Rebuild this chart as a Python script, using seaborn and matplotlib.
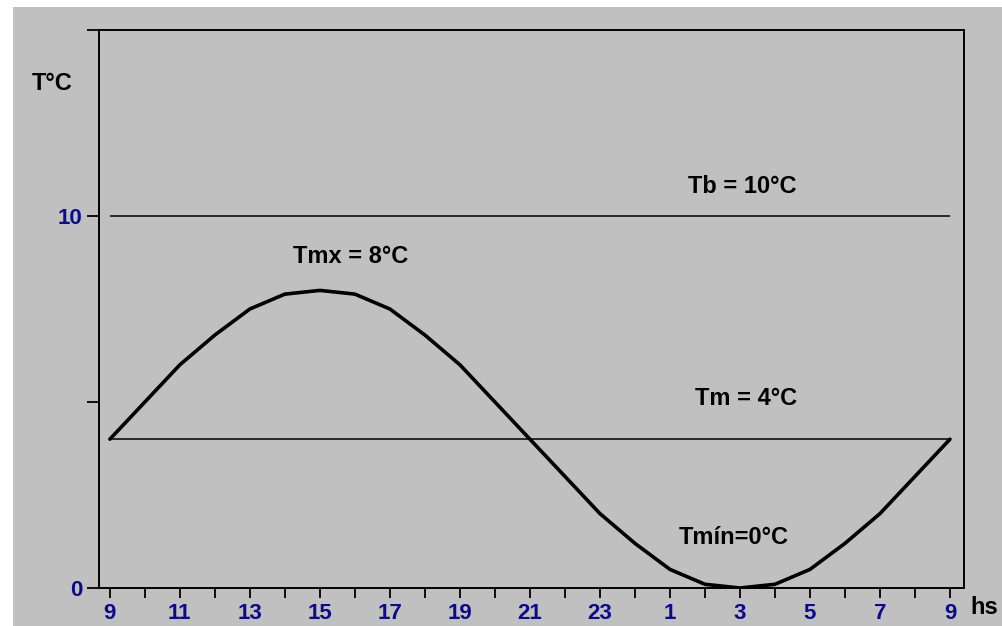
import matplotlib
matplotlib.use("Agg")
import matplotlib.pyplot as plt
from matplotlib.patches import Rectangle
import numpy as np
import pandas as pd
import seaborn as sns

# hours elapsed since 9 h, and temperature (one point per hour)
hours = list(range(25))
temps = [4.0, 5.0, 6.0, 6.8, 7.5, 7.9, 8.0, 7.9, 7.5, 6.8, 6.0, 5.0, 4.0,
         3.0, 2.0, 1.2, 0.5, 0.1, 0.0, 0.1, 0.5, 1.2, 2.0, 3.0, 4.0]
clock_labels = ["9", "11", "13", "15", "17", "19", "21", "23",
                "1", "3", "5", "7", "9"]
t_base = 10
t_mean = 4
y_ticks = [0, 5, 10, 15]
y_labels = ["0", "", "10", ""]

GRAY = "#c0c0c0"
BLUE = "#0a0a8c"

sns.set_theme(style="ticks")
plt.rcParams["font.family"] = ["Liberation Sans", "DejaVu Sans"]
plt.rcParams["text.color"] = "black"

fig = plt.figure(figsize=(10.03, 6.26), dpi=100)
fig.patch.set_facecolor("white")
fig.patches.append(Rectangle((13 / 1003, 0), 1, 1 - 7 / 626,
                             transform=fig.transFigure, facecolor=GRAY,
                             edgecolor="none", zorder=-5))

ax = fig.add_axes([99 / 1003, 38 / 626, 865 / 1003, 558 / 626])
ax.set_facecolor(GRAY)

df = pd.DataFrame({"h": hours, "T": temps})
sns.lineplot(data=df, x="h", y="T", ax=ax, color="black", linewidth=2.6)
ax.hlines([t_base, t_mean], hours[0], hours[-1], color="black", linewidth=1.1)

ax.set_xlim(-0.31, 24.4)
ax.set_ylim(0, 15)
ax.set_xticks(hours, minor=True)
ax.set_xticks(hours[::2])
ax.set_xticklabels(clock_labels)
ax.set_yticks(y_ticks)
ax.set_yticklabels(y_labels)
ax.set_xlabel("")
ax.set_ylabel("")

for s in ax.spines.values():
    s.set_visible(True)
    s.set_color("black")
    s.set_linewidth(1.4)

ax.tick_params(axis="x", which="both", direction="out", length=7, width=1.3,
               color="black", labelcolor=BLUE, labelsize=16, pad=4)
ax.tick_params(axis="y", direction="out", length=9, width=1.3,
               color="black", labelcolor=BLUE, labelsize=16, pad=3)
for lab in ax.get_xticklabels() + ax.get_yticklabels():
    lab.set_fontweight("bold")

txt = dict(fontsize=17, fontweight="bold", color="black",
           ha="center", va="center")
ax.text(18.06, 10.8, "Tb = 10°C", **txt)
ax.text(18.17, 5.1, "Tm = 4°C", **txt)
ax.text(6.89, 8.92, "Tmx = 8°C", **txt)
ax.text(17.83, 1.35, "Tmín=0°C", **txt)
fig.text(52 / 1003, 1 - 83 / 626, "T°C", fontsize=17, fontweight="bold",
         color="black", ha="center", va="center")
fig.text(984 / 1003, 1 - 607 / 626, "hs", fontsize=17, fontweight="bold",
         color="black", ha="center", va="center")

fig.savefig("out.png", dpi=100, facecolor=fig.get_facecolor())
